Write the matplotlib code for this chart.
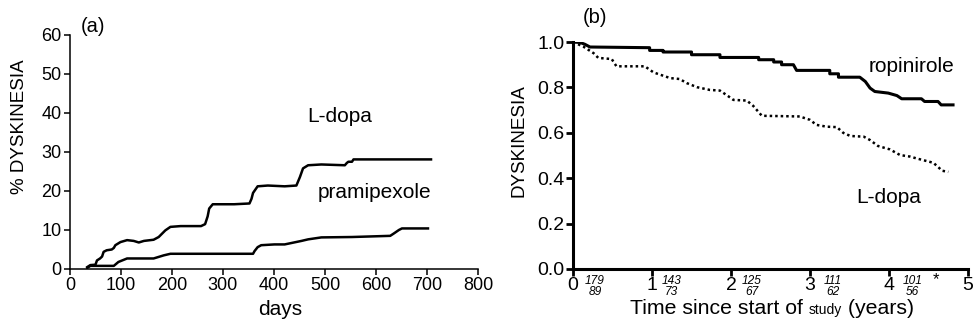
import matplotlib
matplotlib.use("Agg")
import matplotlib.pyplot as plt
from matplotlib.offsetbox import TextArea, HPacker, AnchoredOffsetbox

plt.rcParams['font.family'] = ['Liberation Sans', 'DejaVu Sans']

# panel (a): cumulative % dyskinesia vs days
ldopa_a_days = [34, 40, 50, 53, 59, 63, 66, 72, 82, 86, 89, 99, 112, 125, 135, 145, 164, 174, 187,
                197, 217, 257, 265, 270, 273, 280, 322, 352, 356, 359, 368, 388, 421, 444, 451, 457,
                467, 493, 539, 543, 546, 553, 556, 708]
ldopa_a_pct = [0.5, 1.0, 1.1, 2.2, 2.7, 3.2, 4.4, 4.8, 5.0, 5.4, 6.1, 6.9, 7.4, 7.2, 6.8, 7.2, 7.5, 8.2, 9.9,
               10.8, 11.0, 11.0, 11.5, 13.5, 15.5, 16.6, 16.6, 16.8, 18.0, 19.5, 21.2, 21.4, 21.2, 21.4, 23.6, 25.8,
               26.6, 26.8, 26.6, 27.2, 27.5, 27.5, 28.1, 28.1]

prami_days = [34, 40, 86, 95, 112, 164, 184, 197, 359, 362, 368, 375, 401, 421, 454, 467, 493, 553,
              628, 635, 645, 651, 702]
prami_pct = [0.3, 0.8, 0.8, 1.8, 2.7, 2.7, 3.5, 3.9, 3.9, 4.6, 5.6, 6.1, 6.3, 6.3, 7.2, 7.6, 8.1, 8.2,
             8.5, 9.1, 10.0, 10.4, 10.4]

# panel (b): proportion free of dyskinesia vs years
ropi_years = [0, 0.09, 0.15, 0.215, 0.97, 0.97, 1.14, 1.14, 1.5, 1.5, 1.86, 1.86, 2.35, 2.35, 2.54, 2.54,
              2.64, 2.64, 2.79, 2.83, 3.25, 3.25, 3.36, 3.36, 3.63, 3.7, 3.76, 3.82, 3.99, 4.1, 4.16, 4.41,
              4.45, 4.62, 4.66, 4.81]
ropi_surv = [1.0, 0.998, 0.99, 0.978, 0.975, 0.963, 0.963, 0.956, 0.956, 0.944, 0.944, 0.932, 0.932, 0.922,
             0.922, 0.912, 0.912, 0.9, 0.9, 0.875, 0.875, 0.86, 0.86, 0.845, 0.845, 0.826, 0.797, 0.782, 0.775,
             0.764, 0.75, 0.75, 0.738, 0.738, 0.723, 0.723]

ldopa_b_years = [0, 0.13, 0.26, 0.32, 0.49, 0.55, 0.91, 0.97, 1.02, 1.23, 1.35, 1.44, 1.57, 1.73, 1.86, 1.97,
                 2.03, 2.2, 2.28, 2.39, 2.87, 3.0, 3.08, 3.21, 3.34, 3.42, 3.51, 3.68, 3.76, 3.86, 4.01, 4.14,
                 4.27, 4.35, 4.56, 4.62, 4.67, 4.75]
ldopa_b_surv = [1.0, 0.98, 0.951, 0.93, 0.925, 0.893, 0.893, 0.878, 0.866, 0.841, 0.837, 0.819, 0.801, 0.789,
                0.786, 0.76, 0.745, 0.742, 0.719, 0.675, 0.672, 0.657, 0.635, 0.627, 0.625, 0.6, 0.586, 0.583,
                0.568, 0.542, 0.527, 0.502, 0.495, 0.487, 0.468, 0.45, 0.433, 0.428]

# numbers at risk (ropinirole / L-dopa) and their positions
risk_x = [0.28, 1.25, 2.26, 3.29, 4.3]
risk_top = ['179', '143', '125', '111', '101']
risk_bottom = ['89', '73', '67', '62', '56']

fig = plt.figure(figsize=(9.73, 3.28), dpi=100)

# ---- panel a
ax1 = fig.add_axes([0.0719, 0.1799, 0.4193, 0.7134])
ax1.plot(ldopa_a_days, ldopa_a_pct, color='black', lw=1.8, solid_joinstyle='round')
ax1.plot(prami_days, prami_pct, color='black', lw=1.8, solid_joinstyle='round')
ax1.set_xlim(0, 800)
ax1.set_ylim(0, 60)
ax1.set_xticks(range(0, 801, 100))
ax1.set_yticks(range(0, 61, 10))
for s in ['top', 'right']:
    ax1.spines[s].set_visible(False)
for s in ['left', 'bottom']:
    ax1.spines[s].set_linewidth(1.1)
ax1.tick_params(direction='out', length=4, width=1.1, labelsize=13, pad=2)
ax1.set_ylabel('% DYSKINESIA', fontsize=13.5)
ax1.yaxis.set_label_coords(-0.103, 0.61)
ax1.text(0.515, -0.175, 'days', transform=ax1.transAxes, fontsize=15, ha='center', va='center')
ax1.text(529, 39, 'L-dopa', fontsize=15, ha='center', va='center')
ax1.text(598, 19.7, 'pramipexole', fontsize=15, ha='center', va='center')
ax1.text(0.056, 1.035, '(a)', transform=ax1.transAxes, fontsize=14.5, ha='center', va='center')

# ---- panel b
ax2 = fig.add_axes([0.5889, 0.1799, 0.406, 0.692])
ax2.plot(ropi_years, ropi_surv, color='black', lw=2.2)
ax2.plot(ldopa_b_years, ldopa_b_surv, color='black', lw=1.8, ls=(0, (1, 1.2)))
ax2.set_xlim(0, 5)
ax2.set_ylim(0, 1.0)
ax2.set_xticks(range(0, 6))
ax2.set_yticks([0.0, 0.2, 0.4, 0.6, 0.8, 1.0])
ax2.set_yticklabels(['0.0', '0.2', '0.4', '0.6', '0.8', '1.0'])
for s in ['top', 'right']:
    ax2.spines[s].set_visible(False)
for s in ['left', 'bottom']:
    ax2.spines[s].set_linewidth(2.2)
ax2.tick_params(direction='out', length=5, width=2.0, labelsize=14, pad=1)
ax2.set_ylabel('DYSKINESIA', fontsize=13.6)
ax2.yaxis.set_label_coords(-0.116, 0.564)
ax2.text(4.29, 0.89, 'ropinirole', fontsize=15, ha='center', va='center')
ax2.text(4.0, 0.313, 'L-dopa', fontsize=15, ha='center', va='center')
ax2.text(0.055, 1.11, '(b)', transform=ax2.transAxes, fontsize=14.5, ha='center', va='center')

for xv, t, b in zip(risk_x, risk_top, risk_bottom):
    ax2.text(xv, -0.052, t, fontsize=8.6, style='italic', ha='center', va='center', clip_on=False)
    ax2.text(xv, -0.1, b, fontsize=8.6, style='italic', ha='center', va='center', clip_on=False)
ax2.text(4.6, -0.045, '*', fontsize=12, ha='center', va='center', clip_on=False)

parts = HPacker(children=[TextArea('Time since start of ', textprops=dict(fontsize=15.3)),
                          TextArea('study', textprops=dict(fontsize=10)),
                          TextArea(' (years)', textprops=dict(fontsize=15.3))],
                align='baseline', pad=0, sep=0)
box = AnchoredOffsetbox(loc='center', child=parts, pad=0, frameon=False,
                        bbox_to_anchor=(0.504, -0.175), bbox_transform=ax2.transAxes, borderpad=0)
ax2.add_artist(box)

fig.savefig('out.png', dpi=100)
